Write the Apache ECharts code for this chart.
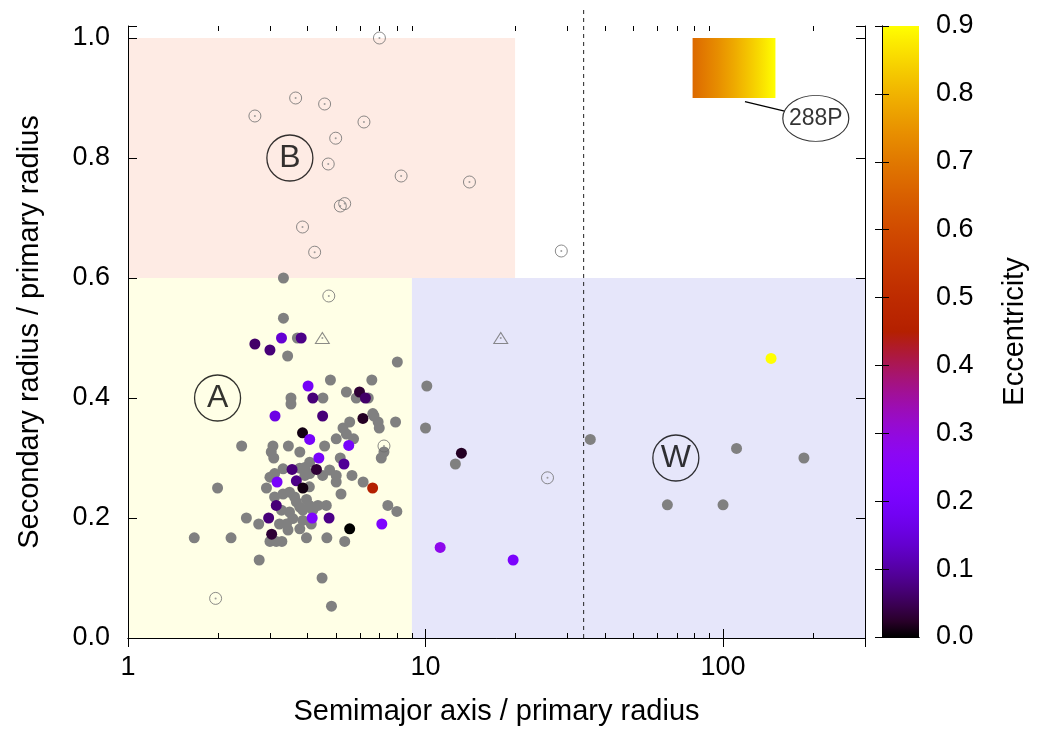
<!DOCTYPE html>
<html>
<head>
<meta charset="utf-8">
<title>Secondary radius vs semimajor axis</title>
<script src="https://cdn.jsdelivr.net/npm/echarts@6/dist/echarts.min.js"></script>
<style>
  html, body { margin: 0; padding: 0; background: #fff; }
  #main { width: 1037px; height: 733px; }
</style>
</head>
<body>
<div id="main"></div>
<script>
// filled gray points: [semimajor axis / Rp, Rs / Rp] (no eccentricity)
var grayPts = [
  [3.33,0.60],[3.33,0.533],[3.71,0.50],[3.44,0.47],[8.04,0.46],
  [4.79,0.43],[6.6,0.43],[5.42,0.41],[6.42,0.40],[5.85,0.40],[3.53,0.40],[3.53,0.39],[4.52,0.40],
  [6.71,0.37],[6.93,0.36],[6.99,0.35],[7.93,0.36],[5.56,0.36],[5.28,0.35],[5.42,0.34],[5.73,0.332],[6.65,0.374],
  [2.41,0.32],[3.07,0.32],[3.46,0.32],[4.58,0.32],[5.01,0.332],[7.25,0.31],[7.1,0.30],[3.03,0.31],[3.09,0.30],
  [3.78,0.31],[5.17,0.30],
  [2.0,0.25],[1.67,0.167],[2.22,0.167],[2.76,0.13],[4.49,0.10],[4.83,0.053],
  [7.47,0.221],[8.01,0.211],[5.35,0.161],[4.66,0.167],[3.98,0.167],
  [2.50,0.20],[2.75,0.19],[3.0,0.161],[3.15,0.161],[3.29,0.161],
  [2.92,0.25],[5.01,0.26],[5.2,0.24],[5.66,0.271],[6.17,0.26],[4.51,0.271],[3.32,0.282],
  [3.0,0.268],[3.11,0.274],[4.07,0.252],
  [3.11,0.235],[3.32,0.24],[3.49,0.243],[3.63,0.235],[3.68,0.227],[3.78,0.218],[3.98,0.231],[4.07,0.221],
  [4.35,0.221],[4.64,0.221],[4.18,0.213],[3.87,0.213],[3.49,0.21],[3.58,0.199],[3.41,0.19],[3.23,0.19],
  [3.45,0.18],[3.78,0.182],[3.87,0.196],[4.13,0.19],[3.28,0.213],
  [3.93,0.284],[3.78,0.283],[3.93,0.271],[4.08,0.274],[4.76,0.28],[4.08,0.293],[5.01,0.271],
  [10.1,0.42],[10.0,0.35],[12.6,0.29],[35.8,0.331],[111,0.316],[187,0.30],[65,0.222],[100,0.222]
];

// coloured points: [a / Rp, Rs / Rp, eccentricity]
var eccPts = [
  [3.28,0.50,0.14],[3.82,0.50,0.08],[2.67,0.49,0.06],[3.0,0.48,0.07],
  [4.03,0.42,0.19],[6.0,0.41,0.03],[6.28,0.40,0.06],[4.18,0.40,0.07],
  [3.12,0.37,0.16],[4.51,0.37,0.07],[6.16,0.366,0.02],
  [3.86,0.342,0.01],[4.08,0.331,0.2],[5.52,0.321,0.2],[4.38,0.30,0.2],[5.32,0.29,0.09],
  [3.56,0.281,0.07],[4.30,0.281,0.03],[3.17,0.26,0.2],[3.68,0.262,0.08],[3.87,0.25,0.01],
  [6.64,0.25,0.45],[3.15,0.221,0.07],[2.97,0.20,0.07],[4.16,0.20,0.22],[4.74,0.20,0.08],
  [7.13,0.19,0.22],[5.56,0.182,0.0],[3.04,0.173,0.03],
  [13.2,0.308,0.02],[11.2,0.151,0.28],[19.7,0.13,0.21],[145,0.466,0.9]
];

// open circles
var openPts = [
  [7.0,1.0],[3.66,0.90],[4.58,0.89],[2.67,0.87],[6.21,0.86],[4.99,0.833],[4.71,0.79],[8.28,0.77],
  [14.05,0.76],[5.17,0.72],[5.35,0.724],[3.86,0.685],[4.24,0.643],[28.6,0.645],[4.73,0.57],
  [7.25,0.32],[1.97,0.066],[25.7,0.267]
];

// open triangles
var triPts = [[4.5,0.5],[17.9,0.5]];

var xMinorTicks = [2,3,4,5,6,7,8,9,20,30,40,50,60,70,80,90,200];

var FONT = 'Liberation Sans, Arial, sans-serif';

// gnuplot default palette (rgbformulae 7,5,15)
function gpColor(t) {
  var r = Math.sqrt(t), g = t * t * t, b = Math.max(0, Math.sin(2 * Math.PI * t));
  return 'rgb(' + Math.round(255 * r) + ',' + Math.round(255 * g) + ',' + Math.round(255 * b) + ')';
}
var palette = [];
var cbStops = [];
for (var i = 0; i <= 40; i++) {
  palette.push(gpColor(i / 40));
  cbStops.push({ offset: i / 40, color: gpColor(i / 40) });
}
var boxStops = [];
for (var j = 0; j <= 10; j++) {
  var t = 0.745 + 0.255 * j / 10;
  boxStops.push({ offset: j / 10, color: gpColor(t) });
}

var chart = echarts.init(document.getElementById('main'));

var axisLineBlack = { show: true, lineStyle: { color: '#000', width: 1 } };

var option = {
  animation: false,
  backgroundColor: '#fff',
  grid: [
    { left: 128, top: 26, width: 737, height: 612, outerBoundsMode: 'none' },
    { left: 882, top: 26, width: 37, height: 611, outerBoundsMode: 'none' }
  ],
  xAxis: [
    {
      gridIndex: 0, type: 'log', logBase: 10, min: 1, max: 300, position: 'bottom', z: 10,
      axisLine: axisLineBlack,
      axisTick: { inside: true, length: 9, lineStyle: { color: '#000' } },
      splitLine: { show: false },
      axisLabel: {
        color: '#000', fontSize: 27, fontFamily: FONT, margin: 16,
        formatter: function (v) {
          var l = Math.log10(v);
          return Math.abs(l - Math.round(l)) < 1e-6 ? String(Math.round(v)) : '';
        }
      },
      name: 'Semimajor axis / primary radius', nameLocation: 'middle', nameGap: 59,
      nameTextStyle: { color: '#000', fontSize: 29, fontFamily: FONT }
    },
    {
      gridIndex: 0, type: 'log', logBase: 10, min: 1, max: 300, position: 'top', z: 10,
      axisLine: axisLineBlack,
      axisTick: { inside: true, length: 9, lineStyle: { color: '#000' } },
      splitLine: { show: false },
      axisLabel: { show: false }
    },
    {
      gridIndex: 1, type: 'value', min: 0, max: 1, position: 'bottom', z: 10,
      axisLine: axisLineBlack, axisTick: { show: false }, axisLabel: { show: false }, splitLine: { show: false }
    },
    {
      gridIndex: 1, type: 'value', min: 0, max: 1, position: 'top', z: 10,
      axisLine: axisLineBlack, axisTick: { show: false }, axisLabel: { show: false }, splitLine: { show: false }
    }
  ],
  yAxis: [
    {
      gridIndex: 0, type: 'value', min: 0, max: 1.02, interval: 0.2, position: 'left', z: 10,
      axisLine: axisLineBlack,
      axisTick: { inside: true, length: 9, lineStyle: { color: '#000' } },
      splitLine: { show: false },
      axisLabel: {
        color: '#000', fontSize: 27, fontFamily: FONT, margin: 18,
        formatter: function (v) {
          return Math.abs(v * 5 - Math.round(v * 5)) < 1e-6 ? v.toFixed(1) : '';
        }
      },
      name: 'Secondary radius / primary radius', nameLocation: 'middle', nameGap: 84,
      nameTextStyle: { color: '#000', fontSize: 29, fontFamily: FONT }
    },
    {
      gridIndex: 0, type: 'value', min: 0, max: 1.02, interval: 0.2, position: 'right', z: 10,
      axisLine: axisLineBlack,
      axisTick: { inside: true, length: 9, lineStyle: { color: '#000' } },
      splitLine: { show: false },
      axisLabel: { show: false }
    },
    {
      gridIndex: 1, type: 'value', min: 0, max: 0.9, interval: 0.1, position: 'left', z: 10,
      axisLine: axisLineBlack,
      axisTick: { inside: true, length: 7, lineStyle: { color: '#000' } },
      splitLine: { show: false },
      axisLabel: { show: false }
    },
    {
      gridIndex: 1, type: 'value', min: 0, max: 0.9, interval: 0.1, position: 'right', z: 10,
      axisLine: axisLineBlack,
      axisTick: { inside: true, length: 7, lineStyle: { color: '#000' } },
      splitLine: { show: false },
      axisLabel: {
        color: '#000', fontSize: 27, fontFamily: FONT, margin: 17,
        formatter: function (v) { return v.toFixed(1); }
      },
      name: 'Eccentricity', nameLocation: 'middle', nameRotate: 90, nameGap: 81,
      nameTextStyle: { color: '#000', fontSize: 29, fontFamily: FONT }
    }
  ],
  visualMap: {
    type: 'continuous', show: false, min: 0, max: 0.9, dimension: 2, seriesIndex: 8,
    inRange: { color: palette }
  },
  series: [
    // 0 region backgrounds and the 288P box
    {
      type: 'scatter', xAxisIndex: 0, yAxisIndex: 0, data: [], z: 1, silent: true,
      markArea: {
        silent: true, label: { show: false },
        data: [
          [{ coord: [1, 0.6], itemStyle: { color: '#feebe4', opacity: 1 } }, { coord: [20, 1.0] }],
          [{ coord: [1, 0], itemStyle: { color: '#ffffe6', opacity: 1 } }, { coord: [9, 0.6] }],
          [{ coord: [9, 0], itemStyle: { color: '#e6e6fa', opacity: 1 } }, { coord: [300, 0.6] }],
          [{ coord: [79, 0.9], itemStyle: { color: new echarts.graphic.LinearGradient(0, 0, 1, 0, boxStops), opacity: 1 } },
           { coord: [150, 1.0] }]
        ]
      }
    },
    // 1 minor log ticks (bottom and top)
    {
      type: 'custom', xAxisIndex: 0, yAxisIndex: 0, z: 10, silent: true, clip: false,
      data: xMinorTicks.map(function (v) { return [v, 0]; }),
      renderItem: function (params, api) {
        var cs = params.coordSys;
        var x = Math.round(api.coord([api.value(0), 0])[0]) + 0.5;
        var yb = cs.y + cs.height, yt = cs.y;
        return {
          type: 'group',
          children: [
            { type: 'line', shape: { x1: x, y1: yb, x2: x, y2: yb - 5 }, style: { stroke: '#000', lineWidth: 1 } },
            { type: 'line', shape: { x1: x, y1: yt, x2: x, y2: yt + 5 }, style: { stroke: '#000', lineWidth: 1 } }
          ]
        };
      }
    },
    // 2 dashed vertical line
    {
      type: 'line', xAxisIndex: 0, yAxisIndex: 0, z: 3, silent: true, clip: false, symbol: 'none',
      data: [[34, 0], [34, 1.05]],
      lineStyle: { color: '#222', width: 1, type: [4, 4] }
    },
    // 3 gray points
    {
      type: 'scatter', xAxisIndex: 0, yAxisIndex: 0, z: 4, silent: true,
      data: grayPts, symbol: 'circle', symbolSize: 11,
      itemStyle: { color: '#808080', opacity: 1 }
    },
    // 4 open circles
    {
      type: 'scatter', xAxisIndex: 0, yAxisIndex: 0, z: 4, silent: true,
      data: openPts, symbol: 'circle', symbolSize: 12,
      itemStyle: { color: 'rgba(0,0,0,0)', borderColor: '#6e6e6e', borderWidth: 1 }
    },
    // 5 dots in open circles
    {
      type: 'scatter', xAxisIndex: 0, yAxisIndex: 0, z: 4, silent: true,
      data: openPts, symbol: 'circle', symbolSize: 2,
      itemStyle: { color: '#888' }
    },
    // 6 open triangles
    {
      type: 'scatter', xAxisIndex: 0, yAxisIndex: 0, z: 4, silent: true,
      data: triPts, symbol: 'triangle', symbolSize: [14, 11],
      itemStyle: { color: 'rgba(0,0,0,0)', borderColor: '#6e6e6e', borderWidth: 1 }
    },
    // 7 dots in triangles
    {
      type: 'scatter', xAxisIndex: 0, yAxisIndex: 0, z: 4, silent: true,
      data: triPts, symbol: 'circle', symbolSize: 2,
      itemStyle: { color: '#888' }
    },
    // 8 coloured by eccentricity
    {
      type: 'scatter', xAxisIndex: 0, yAxisIndex: 0, z: 5, silent: true,
      data: eccPts, symbol: 'circle', symbolSize: 11,
      itemStyle: { opacity: 1 }
    },
    // 9 region labels
    {
      type: 'scatter', xAxisIndex: 0, yAxisIndex: 0, z: 6, silent: true,
      data: [
        { name: 'B', value: [3.5, 0.8] },
        { name: 'A', value: [2.0, 0.4] },
        { name: 'W', value: [69.4, 0.3] }
      ],
      symbol: 'circle', symbolSize: 46,
      itemStyle: { color: 'rgba(0,0,0,0)', borderColor: '#000', borderWidth: 1.3 },
      label: { show: true, position: 'inside', formatter: '{b}', color: '#000', fontSize: 32, fontFamily: FONT }
    },
    // 10 pointer line for 288P
    {
      type: 'line', xAxisIndex: 0, yAxisIndex: 0, z: 6, silent: true, symbol: 'none',
      data: [[118.5, 0.894], [161, 0.878]],
      lineStyle: { color: '#000', width: 1.2 }
    },
    // 11 288P label
    {
      type: 'scatter', xAxisIndex: 0, yAxisIndex: 0, z: 6, silent: true,
      data: [{ name: '288P', value: [205, 0.866] }],
      symbol: 'circle', symbolSize: [66, 46],
      itemStyle: { color: '#fff', borderColor: '#000', borderWidth: 1 },
      label: { show: true, position: 'inside', formatter: '{b}', color: '#000', fontSize: 23, fontFamily: FONT }
    },
    // 12 colour bar
    {
      type: 'scatter', xAxisIndex: 2, yAxisIndex: 2, data: [], z: 1, silent: true,
      markArea: {
        silent: true, label: { show: false },
        data: [
          [{ coord: [0, 0], itemStyle: { color: new echarts.graphic.LinearGradient(0, 1, 0, 0, cbStops), opacity: 1 } },
           { coord: [1, 0.9] }]
        ]
      }
    }
  ]
};

chart.setOption(option);
</script>
</body>
</html>
